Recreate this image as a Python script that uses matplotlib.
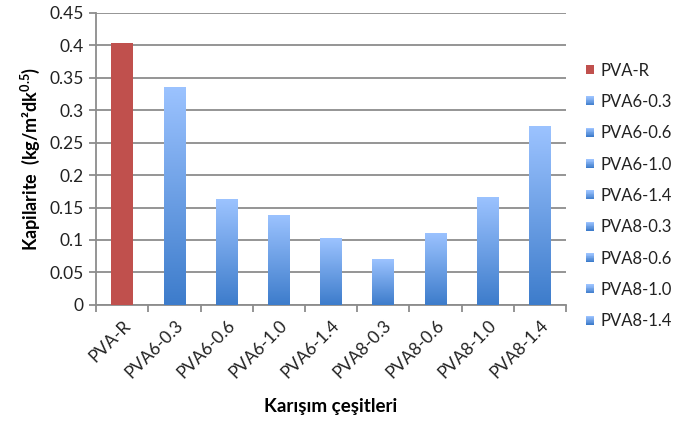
import numpy as np
import matplotlib
matplotlib.use("Agg")
import matplotlib.pyplot as plt
from matplotlib.colors import LinearSegmentedColormap
from matplotlib.legend_handler import HandlerBase
from matplotlib.patches import Rectangle

plt.rcParams['font.family'] = ['Lato', 'DejaVu Sans']
plt.rcParams['mathtext.fontset'] = 'custom'
plt.rcParams['mathtext.bf'] = 'Lato:bold'
plt.rcParams['mathtext.rm'] = 'Lato'

# capillarity values per mix
mixes = ["PVA-R", "PVA6-0.3", "PVA6-0.6", "PVA6-1.0", "PVA6-1.4",
         "PVA8-0.3", "PVA8-0.6", "PVA8-1.0", "PVA8-1.4"]
capillarity = [0.403, 0.336, 0.163, 0.139, 0.103, 0.070, 0.111, 0.167, 0.275]

red = "#C0504D"
blue_cmap = LinearSegmentedColormap.from_list("bl", ["#3D7CCB", "#9CC3FF"])
grad = np.linspace(0, 1, 256).reshape(-1, 1)

fig = plt.figure(figsize=(6.92, 4.30), dpi=100)
ax = fig.add_axes([0.139, 0.291, 0.679, 0.679])

x = np.arange(len(mixes))
w = 0.42
bars = ax.bar(x, capillarity, width=w, color=red, zorder=3)
for i, b in enumerate(bars):
    if i == 0:
        continue
    b.set_facecolor("none")
    x0 = b.get_x()
    im = ax.imshow(grad, cmap=blue_cmap, aspect="auto", origin="lower",
                   extent=(x0, x0 + w, 0, b.get_height()), zorder=3)
    im.set_clip_path(b)

ax.set_xlim(-0.5, len(mixes) - 0.5)
ax.set_ylim(0, 0.45)
ax.set_yticks(np.arange(0, 0.46, 0.05))
ax.set_yticklabels(["0", "0.05", "0.1", "0.15", "0.2", "0.25", "0.3",
                    "0.35", "0.4", "0.45"])
ax.grid(axis="y", color="#8C8C8C", linewidth=1.3, zorder=0)
ax.set_axisbelow(True)

ax.set_xticks(x)
ax.set_xticklabels(mixes, rotation=45, ha="right", rotation_mode="anchor")
ax.set_xticks(np.arange(-0.5, len(mixes), 1), minor=True)
ax.tick_params(axis="x", which="major", length=0, pad=9, labelsize=12.5,
               colors="#222222")
ax.tick_params(axis="x", which="minor", length=5, width=1.3, color="#8C8C8C")
ax.tick_params(axis="y", length=5, width=1.3, color="#8C8C8C", labelsize=12.5,
               labelcolor="#222222", pad=4)

for s in ["top", "right"]:
    ax.spines[s].set_visible(False)
for s in ["left", "bottom"]:
    ax.spines[s].set_color("#8C8C8C")
    ax.spines[s].set_linewidth(1.3)

ax.set_xlabel("Karışım çeşitleri", fontsize=13.5, fontweight="bold", labelpad=12)
ax.set_ylabel(r"Kapilarite  (kg/m²dk$^{\mathbf{0.5}}$)", fontsize=13,
              fontweight="bold", labelpad=5)


class GradientHandler(HandlerBase):
    def create_artists(self, legend, orig, xd, yd, width, height, fontsize, trans):
        side = height * 0.75
        x0 = xd + width - side
        y0 = yd + (height - side) / 2
        arts = []
        n = 12
        for k in range(n):
            c = blue_cmap(k / (n - 1))
            r = Rectangle((x0, y0 + side * k / n), side, side / n + 0.2,
                          facecolor=c, edgecolor="none", transform=trans)
            arts.append(r)
        return arts


class SolidHandler(HandlerBase):
    def create_artists(self, legend, orig, xd, yd, width, height, fontsize, trans):
        side = height * 0.75
        x0 = xd + width - side
        y0 = yd + (height - side) / 2
        return [Rectangle((x0, y0), side, side, facecolor=red,
                          edgecolor="none", transform=trans)]


handles = [Rectangle((0, 0), 1, 1) for _ in mixes]
hmap = {handles[0]: SolidHandler()}
for h in handles[1:]:
    hmap[h] = GradientHandler()
fig.legend(handles, mixes, handler_map=hmap, loc="upper left",
           bbox_to_anchor=(0.83, 0.87), frameon=False, fontsize=12,
           labelspacing=0.92, handlelength=0.8, handletextpad=0.35,
           borderaxespad=0, labelcolor="#222222")

fig.savefig("out.png", dpi=100)
